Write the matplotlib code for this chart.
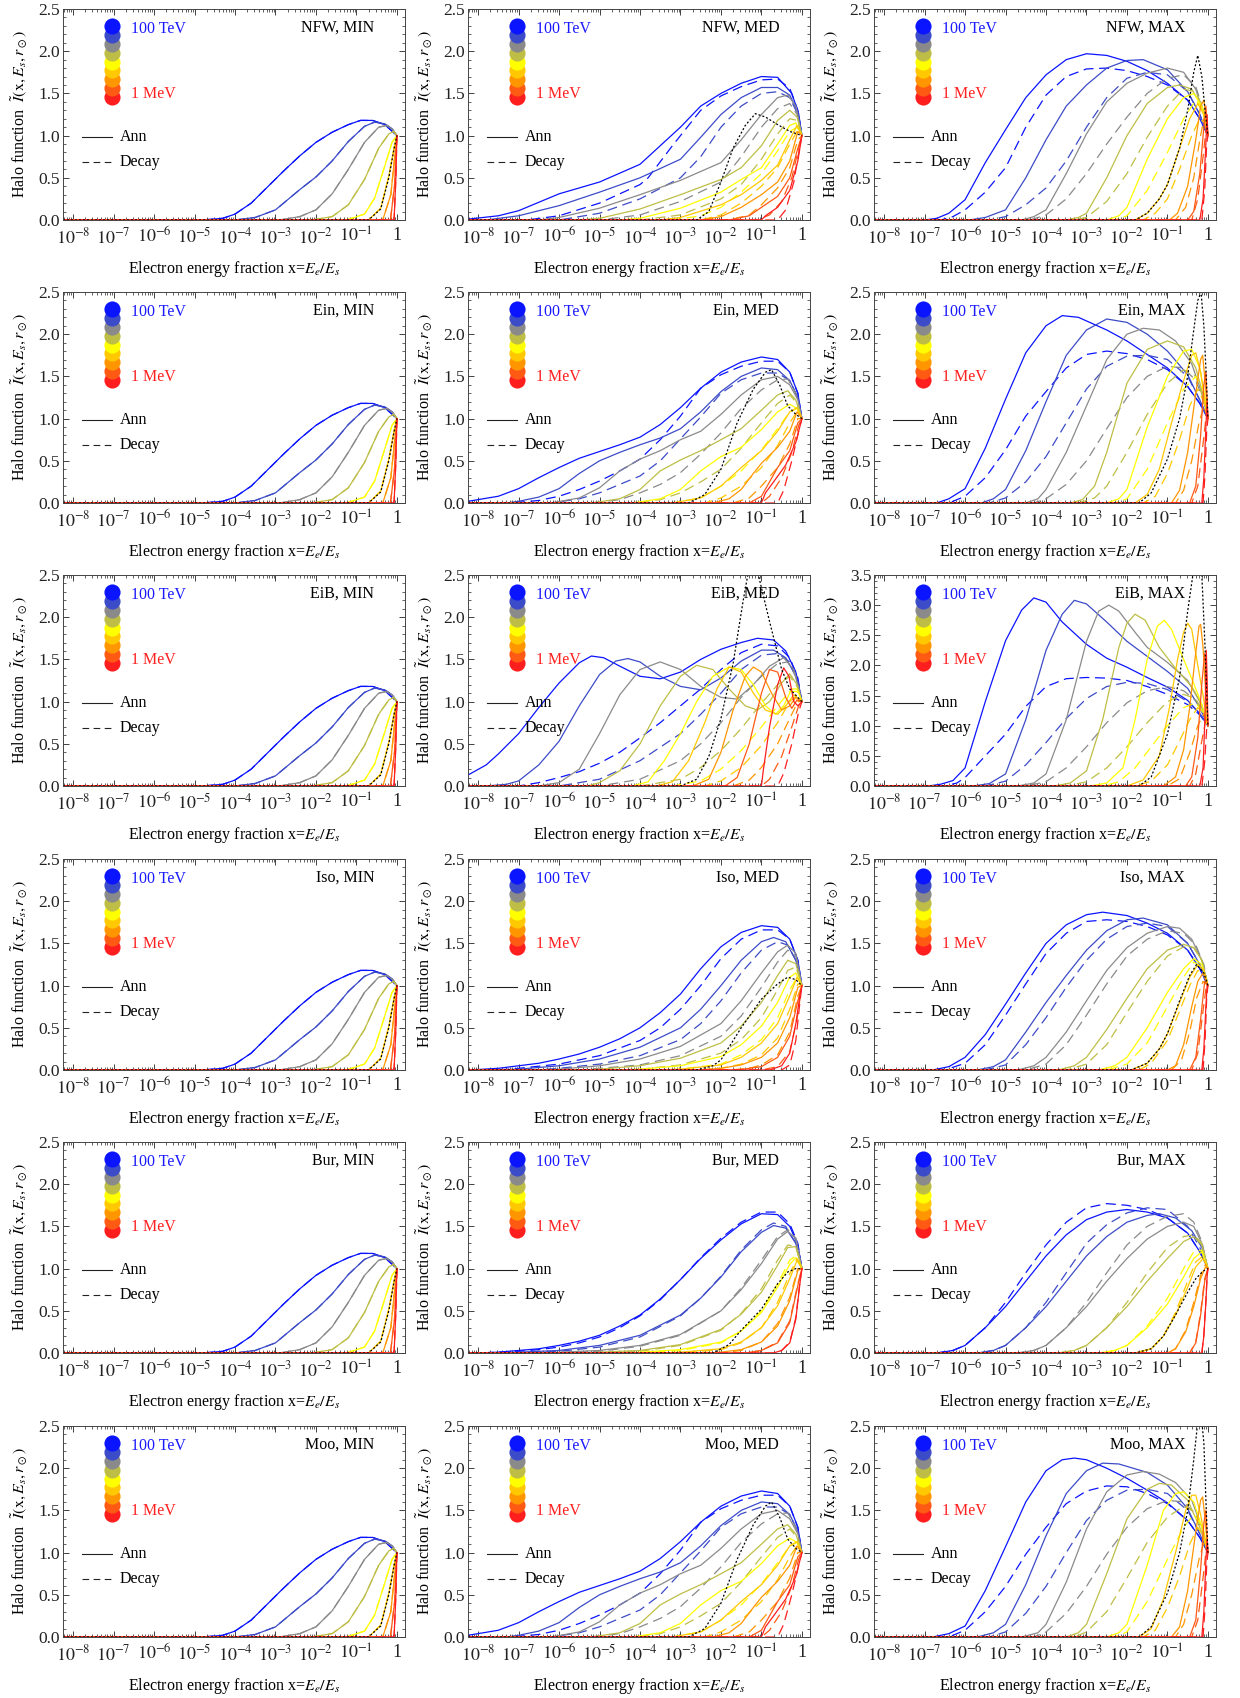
import numpy as np
import matplotlib.pyplot as plt
from matplotlib.ticker import FixedLocator, MultipleLocator, FormatStrFormatter, NullFormatter

plt.rcParams['font.family'] = ['Liberation Serif', 'DejaVu Serif']
plt.rcParams['mathtext.fontset'] = 'stix'

# line colours from 100 TeV (blue) down to 1 MeV (red)
COLORS = ['#0a14ff', '#3c4bc8', '#8a8a8a', '#bebe46', '#ffff00',
          '#ffc800', '#ff9600', '#ff5a14', '#ff1e1e']

XTICK_LABELS = [r'$10^{-8}$', r'$10^{-7}$', r'$10^{-6}$', r'$10^{-5}$',
                r'$10^{-4}$', r'$10^{-3}$', r'$10^{-2}$', r'$10^{-1}$', '1']

# each curve: list of (log10 x, I) knots; before the first knot the curve sits at 0

# ---------------- MIN propagation (all halo profiles look alike) ----------------
MIN_ANN = [
    [(-4.8, 0), (-4.3, 0.02), (-4.0, 0.07), (-3.6, 0.2), (-3.2, 0.39), (-2.8, 0.58), (-2.4, 0.76),
     (-2.0, 0.92), (-1.6, 1.04), (-1.2, 1.13), (-0.9, 1.18), (-0.6, 1.18), (-0.3, 1.13), (0, 1.0)],
    [(-4.0, 0), (-3.5, 0.03), (-3.0, 0.12), (-2.8, 0.2), (-2.4, 0.36), (-2.0, 0.51), (-1.6, 0.7),
     (-1.2, 0.93), (-0.8, 1.11), (-0.55, 1.16), (-0.3, 1.14), (-0.12, 1.08), (0, 1.0)],
    [(-2.9, 0), (-2.4, 0.04), (-2.0, 0.12), (-1.6, 0.31), (-1.2, 0.6), (-0.8, 0.92), (-0.45, 1.1),
     (-0.25, 1.12), (-0.1, 1.07), (0, 1.0)],
    [(-2.1, 0), (-1.6, 0.04), (-1.2, 0.18), (-0.8, 0.48), (-0.45, 0.85), (-0.2, 1.02), (-0.08, 1.05), (0, 1.0)],
    [(-1.25, 0), (-0.8, 0.07), (-0.55, 0.26), (-0.3, 0.64), (-0.12, 0.92), (0, 1.0)],
    [(-0.7, 0), (-0.4, 0.14), (-0.2, 0.52), (-0.06, 0.88), (0, 1.0)],
    [(-0.35, 0), (-0.15, 0.3), (-0.04, 0.82), (0, 1.0)],
    [(-0.16, 0), (-0.06, 0.4), (0, 1.0)],
    [(-0.07, 0), (-0.025, 0.5), (0, 1.0)],
]
MIN_DEC = MIN_ANN
MIN_DOT = [(-0.7, 0), (-0.4, 0.13), (-0.2, 0.5), (-0.06, 0.87), (0, 1.0)]

# ---------------- NFW, MED ----------------
NFW_MED_ANN = [
    [(-8.25, 0.01), (-7.5, 0.05), (-7, 0.11), (-6, 0.31), (-5, 0.45), (-4, 0.66), (-3.5, 0.88), (-3, 1.10),
     (-2.5, 1.35), (-2, 1.5), (-1.5, 1.62), (-1, 1.7), (-0.6, 1.69), (-0.25, 1.5), (-0.08, 1.26), (0, 1.0)],
    [(-7.8, 0), (-7, 0.05), (-6, 0.17), (-5, 0.33), (-4, 0.5), (-3, 0.72), (-2.5, 0.98), (-2, 1.25),
     (-1.5, 1.45), (-1, 1.57), (-0.6, 1.57), (-0.3, 1.48), (-0.1, 1.28), (0, 1.0)],
    [(-6.5, 0), (-6, 0.03), (-5, 0.14), (-4, 0.3), (-3, 0.47), (-2, 0.68), (-1.5, 0.95), (-1, 1.25),
     (-0.6, 1.45), (-0.35, 1.48), (-0.15, 1.35), (0, 1.0)],
    [(-5.5, 0), (-5, 0.02), (-4, 0.13), (-3, 0.3), (-2, 0.48), (-1.5, 0.62), (-1, 0.88), (-0.6, 1.18),
     (-0.3, 1.3), (-0.12, 1.22), (0, 1.0)],
    [(-4.5, 0), (-4, 0.02), (-3, 0.14), (-2, 0.33), (-1.5, 0.48), (-1, 0.62), (-0.6, 0.9), (-0.3, 1.12),
     (-0.15, 1.15), (0, 1.0)],
    [(-3.5, 0), (-3, 0.03), (-2, 0.18), (-1.5, 0.3), (-1, 0.47), (-0.6, 0.65), (-0.3, 0.95), (-0.12, 1.12), (0, 1.0)],
    [(-2.5, 0), (-2, 0.04), (-1.5, 0.15), (-1, 0.3), (-0.6, 0.45), (-0.3, 0.7), (-0.1, 1.05), (0, 1.0)],
    [(-1.8, 0), (-1.3, 0.05), (-1, 0.15), (-0.6, 0.28), (-0.3, 0.5), (-0.1, 0.85), (0, 1.0)],
    [(-1.0, 0), (-0.9, 0.05), (-0.6, 0.15), (-0.3, 0.35), (-0.1, 0.7), (0, 1.0)],
]
NFW_MED_DEC = [
    [(-6.8, 0), (-6, 0.05), (-5, 0.2), (-4, 0.42), (-3.8, 0.5), (-3.2, 0.88), (-2.5, 1.3), (-2, 1.47),
     (-1.5, 1.58), (-1, 1.66), (-0.6, 1.67), (-0.3, 1.56), (-0.1, 1.3), (0, 1.0)],
    [(-6, 0), (-5, 0.08), (-4, 0.25), (-3, 0.5), (-2.5, 0.75), (-2, 1.1), (-1.5, 1.35), (-1, 1.5),
     (-0.6, 1.52), (-0.3, 1.45), (-0.1, 1.25), (0, 1.0)],
    [(-5, 0), (-4, 0.06), (-3, 0.22), (-2, 0.45), (-1.5, 0.75), (-1, 1.1), (-0.6, 1.32), (-0.3, 1.38),
     (-0.12, 1.25), (0, 1.0)],
    [(-4, 0), (-3, 0.06), (-2, 0.25), (-1.5, 0.42), (-1, 0.72), (-0.6, 1.02), (-0.3, 1.2), (-0.12, 1.18), (0, 1.0)],
    [(-3.2, 0), (-2.5, 0.05), (-2, 0.15), (-1.5, 0.33), (-1, 0.55), (-0.6, 0.82), (-0.3, 1.05), (-0.12, 1.1), (0, 1.0)],
    [(-2.5, 0), (-2, 0.06), (-1.5, 0.2), (-1, 0.4), (-0.6, 0.62), (-0.3, 0.9), (-0.12, 1.05), (0, 1.0)],
    [(-1.8, 0), (-1.3, 0.06), (-1, 0.18), (-0.6, 0.38), (-0.3, 0.62), (-0.1, 0.95), (0, 1.0)],
    [(-1.1, 0), (-0.8, 0.06), (-0.5, 0.22), (-0.25, 0.5), (-0.08, 0.85), (0, 1.0)],
    [(-0.6, 0), (-0.4, 0.12), (-0.2, 0.45), (-0.06, 0.85), (0, 1.0)],
]
NFW_MED_DOT = [(-2.6, 0), (-2.3, 0.1), (-2.0, 0.45), (-1.7, 0.85), (-1.4, 1.12), (-1.15, 1.26), (-0.9, 1.22),
               (-0.6, 1.13), (-0.3, 1.05), (0, 1.0)]

# ---------------- Ein, MED ----------------
EIN_MED_ANN = [
    [(-8.25, 0.02), (-7.5, 0.08), (-7, 0.17), (-6.5, 0.3), (-6, 0.42), (-5.5, 0.53), (-5, 0.61), (-4.5, 0.69),
     (-4, 0.78), (-3.5, 0.93), (-3, 1.13), (-2.5, 1.36), (-2, 1.55), (-1.5, 1.67), (-1, 1.73), (-0.6, 1.7),
     (-0.3, 1.55), (-0.1, 1.3), (0, 1.0)],
    [(-7.3, 0), (-7, 0.02), (-6.5, 0.07), (-6, 0.17), (-5.5, 0.35), (-5, 0.5), (-4.5, 0.6), (-4, 0.69),
     (-3.5, 0.77), (-3, 0.88), (-2.5, 1.08), (-2, 1.32), (-1.5, 1.5), (-1, 1.6), (-0.6, 1.58), (-0.3, 1.45),
     (-0.1, 1.25), (0, 1.0)],
    [(-6.2, 0), (-5.5, 0.06), (-5, 0.18), (-4.5, 0.38), (-4, 0.52), (-3.5, 0.62), (-3, 0.75), (-2.5, 0.85),
     (-2, 1.05), (-1.5, 1.28), (-1, 1.46), (-0.6, 1.5), (-0.3, 1.4), (-0.1, 1.22), (0, 1.0)],
    [(-5.2, 0), (-4.5, 0.05), (-4, 0.16), (-3.5, 0.38), (-3, 0.51), (-2.5, 0.62), (-2, 0.75), (-1.5, 0.88),
     (-1, 1.1), (-0.6, 1.28), (-0.35, 1.33), (-0.15, 1.22), (0, 1.0)],
    [(-4.2, 0), (-3.5, 0.05), (-3, 0.16), (-2.5, 0.38), (-2, 0.55), (-1.5, 0.66), (-1, 0.87), (-0.6, 1.08),
     (-0.3, 1.17), (-0.12, 1.12), (0, 1.0)],
    [(-3.2, 0), (-2.5, 0.06), (-2, 0.2), (-1.5, 0.42), (-1, 0.62), (-0.6, 0.85), (-0.3, 1.08), (-0.12, 1.13), (0, 1.0)],
    [(-2.2, 0), (-1.8, 0.05), (-1.5, 0.16), (-1.2, 0.35), (-1, 0.47), (-0.6, 0.66), (-0.3, 0.85), (-0.12, 1.08), (0, 1.0)],
    [(-1.3, 0), (-1.0, 0.08), (-0.8, 0.25), (-0.6, 0.42), (-0.3, 0.62), (-0.1, 0.95), (0, 1.0)],
    [(-1.0, 0), (-0.9, 0.12), (-0.7, 0.25), (-0.4, 0.45), (-0.15, 0.72), (0, 1.0)],
]
EIN_MED_DEC = [
    [(-7.2, 0), (-6.5, 0.03), (-6, 0.08), (-5.5, 0.16), (-5, 0.26), (-4.5, 0.38), (-4, 0.52), (-3.5, 0.75),
     (-3, 1.03), (-2.5, 1.36), (-2, 1.52), (-1.5, 1.62), (-1, 1.68), (-0.6, 1.68), (-0.3, 1.55), (-0.1, 1.3), (0, 1.0)],
    [(-6.2, 0), (-5.5, 0.05), (-5, 0.12), (-4.5, 0.22), (-4, 0.32), (-3.5, 0.5), (-3, 0.76), (-2.5, 1.02),
     (-2, 1.3), (-1.5, 1.46), (-1, 1.54), (-0.6, 1.54), (-0.3, 1.45), (-0.1, 1.25), (0, 1.0)],
    [(-5.2, 0), (-4.5, 0.04), (-4, 0.12), (-3.5, 0.22), (-3, 0.36), (-2.5, 0.58), (-2, 0.83), (-1.5, 1.12),
     (-1, 1.34), (-0.6, 1.46), (-0.35, 1.47), (-0.15, 1.3), (0, 1.0)],
    [(-4.2, 0), (-3.5, 0.04), (-3, 0.12), (-2.5, 0.25), (-2, 0.4), (-1.5, 0.65), (-1, 0.95), (-0.6, 1.18),
     (-0.3, 1.28), (-0.12, 1.18), (0, 1.0)],
    [(-3.2, 0), (-2.5, 0.06), (-2, 0.2), (-1.5, 0.38), (-1, 0.63), (-0.6, 0.88), (-0.3, 1.08), (-0.12, 1.12), (0, 1.0)],
    [(-2.4, 0), (-2, 0.06), (-1.5, 0.2), (-1, 0.42), (-0.6, 0.68), (-0.3, 0.95), (-0.1, 1.1), (0, 1.0)],
    [(-1.7, 0), (-1.3, 0.06), (-1, 0.2), (-0.6, 0.42), (-0.3, 0.7), (-0.1, 1.0), (0, 1.0)],
    [(-1.0, 0), (-0.8, 0.08), (-0.5, 0.3), (-0.25, 0.6), (-0.08, 0.92), (0, 1.0)],
    [(-0.6, 0), (-0.45, 0.15), (-0.25, 0.5), (-0.08, 0.85), (0, 1.0)],
]
EIN_MED_DOT = [(-2.8, 0), (-2.4, 0.1), (-2.0, 0.4), (-1.6, 0.95), (-1.2, 1.35), (-0.9, 1.55), (-0.75, 1.58),
               (-0.55, 1.4), (-0.35, 1.15), (-0.15, 1.05), (0, 1.0)]

# ---------------- EiB, MED ----------------
EIB_MED_ANN = [
    [(-8.25, 0.13), (-7.8, 0.25), (-7.5, 0.38), (-7, 0.62), (-6.5, 0.93), (-6, 1.22), (-5.5, 1.46), (-5.2, 1.54),
     (-4.9, 1.52), (-4.5, 1.42), (-4, 1.3), (-3.5, 1.27), (-3, 1.35), (-2.5, 1.5), (-2, 1.62), (-1.5, 1.7),
     (-1.1, 1.75), (-0.7, 1.73), (-0.4, 1.6), (-0.15, 1.35), (0, 1.0)],
    [(-7.8, 0), (-7.3, 0.02), (-7, 0.06), (-6.5, 0.25), (-6, 0.53), (-5.5, 0.95), (-5, 1.32), (-4.6, 1.48),
     (-4.3, 1.51), (-4, 1.47), (-3.5, 1.3), (-3, 1.18), (-2.5, 1.14), (-2, 1.28), (-1.5, 1.48), (-1, 1.61),
     (-0.7, 1.61), (-0.4, 1.52), (-0.15, 1.3), (0, 1.0)],
    [(-6.5, 0), (-6, 0.04), (-5.5, 0.2), (-5, 0.62), (-4.5, 1.08), (-4, 1.38), (-3.5, 1.47), (-3, 1.38),
     (-2.5, 1.18), (-2, 1.05), (-1.6, 1.03), (-1.2, 1.2), (-0.8, 1.42), (-0.45, 1.52), (-0.2, 1.38), (0, 1.0)],
    [(-5.3, 0), (-5, 0.04), (-4.5, 0.18), (-4, 0.5), (-3.5, 0.95), (-3, 1.3), (-2.6, 1.43), (-2.2, 1.38),
     (-1.8, 1.15), (-1.4, 0.95), (-1.1, 0.9), (-0.8, 1.0), (-0.5, 1.22), (-0.3, 1.33), (-0.12, 1.2), (0, 1.0)],
    [(-4.2, 0), (-3.8, 0.05), (-3.4, 0.3), (-3, 0.62), (-2.6, 1.0), (-2.2, 1.3), (-1.8, 1.41), (-1.5, 1.38),
     (-1.2, 1.2), (-0.9, 0.95), (-0.65, 0.85), (-0.45, 0.95), (-0.25, 1.15), (-0.12, 1.15), (0, 1.0)],
    [(-3.6, 0), (-3.2, 0.05), (-2.8, 0.3), (-2.4, 0.75), (-2.1, 1.15), (-1.8, 1.41), (-1.5, 1.35), (-1.2, 1.1),
     (-0.9, 0.9), (-0.6, 0.85), (-0.4, 0.95), (-0.2, 1.08), (0, 1.0)],
    [(-2.7, 0), (-2.3, 0.08), (-2.0, 0.4), (-1.7, 0.9), (-1.4, 1.3), (-1.2, 1.41), (-1.0, 1.35), (-0.75, 1.1),
     (-0.5, 0.9), (-0.3, 0.95), (-0.15, 1.05), (0, 1.0)],
    [(-1.9, 0), (-1.6, 0.1), (-1.3, 0.5), (-1.0, 1.1), (-0.8, 1.38), (-0.6, 1.35), (-0.4, 1.05), (-0.25, 0.92),
     (-0.12, 1.02), (0, 1.0)],
    [(-1.0, 0), (-0.95, 0.2), (-0.8, 0.7), (-0.6, 1.2), (-0.45, 1.4), (-0.32, 1.3), (-0.2, 1.0), (-0.1, 0.95), (0, 1.0)],
]
EIB_MED_DEC = [
    [(-7, 0), (-6.5, 0.04), (-6, 0.1), (-5.5, 0.17), (-5, 0.27), (-4.5, 0.4), (-4, 0.57), (-3.5, 0.75),
     (-3, 0.95), (-2.5, 1.15), (-2, 1.38), (-1.5, 1.58), (-1, 1.68), (-0.6, 1.66), (-0.3, 1.52), (-0.1, 1.28), (0, 1.0)],
    [(-6, 0), (-5, 0.08), (-4, 0.3), (-3, 0.62), (-2.5, 0.85), (-2, 1.1), (-1.5, 1.38), (-1, 1.55), (-0.6, 1.57),
     (-0.3, 1.47), (-0.1, 1.25), (0, 1.0)],
    [(-5, 0), (-4, 0.08), (-3, 0.3), (-2.5, 0.5), (-2, 0.75), (-1.5, 1.05), (-1, 1.3), (-0.6, 1.45), (-0.35, 1.47),
     (-0.15, 1.3), (0, 1.0)],
    [(-4, 0), (-3, 0.08), (-2.5, 0.22), (-2, 0.42), (-1.5, 0.68), (-1, 0.98), (-0.6, 1.2), (-0.3, 1.3), (-0.12, 1.18), (0, 1.0)],
    [(-3.2, 0), (-2.5, 0.06), (-2, 0.2), (-1.5, 0.42), (-1, 0.7), (-0.6, 0.95), (-0.3, 1.12), (-0.12, 1.12), (0, 1.0)],
    [(-2.4, 0), (-2, 0.06), (-1.5, 0.22), (-1, 0.48), (-0.6, 0.75), (-0.3, 1.0), (-0.1, 1.08), (0, 1.0)],
    [(-1.7, 0), (-1.3, 0.07), (-1, 0.22), (-0.6, 0.5), (-0.3, 0.8), (-0.1, 1.0), (0, 1.0)],
    [(-1.0, 0), (-0.8, 0.08), (-0.5, 0.35), (-0.25, 0.7), (-0.08, 0.95), (0, 1.0)],
    [(-0.6, 0), (-0.45, 0.15), (-0.25, 0.5), (-0.08, 0.88), (0, 1.0)],
]
EIB_MED_DOT = [(-3.0, 0), (-2.6, 0.08), (-2.3, 0.35), (-2.0, 0.8), (-1.7, 1.45), (-1.45, 2.2), (-1.3, 2.6),
               (-1.2, 2.65), (-1.1, 2.55), (-0.8, 1.95), (-0.5, 1.38), (-0.3, 1.15), (0, 1.0)]

# ---------------- Iso, MED ----------------
ISO_MED_ANN = [
    [(-8.2, 0), (-7.5, 0.02), (-7, 0.05), (-6.5, 0.08), (-6, 0.13), (-5.5, 0.19), (-5, 0.27), (-4.5, 0.37),
     (-4, 0.5), (-3.5, 0.68), (-3, 0.9), (-2.5, 1.2), (-2, 1.46), (-1.5, 1.63), (-1, 1.71), (-0.6, 1.69),
     (-0.3, 1.55), (-0.1, 1.3), (0, 1.0)],
    [(-7.5, 0), (-7, 0.01), (-6, 0.05), (-5, 0.13), (-4, 0.27), (-3, 0.5), (-2.5, 0.72), (-2, 1.0), (-1.5, 1.3),
     (-1, 1.52), (-0.7, 1.57), (-0.4, 1.52), (-0.15, 1.3), (0, 1.0)],
    [(-6.5, 0), (-6, 0.01), (-5, 0.05), (-4, 0.13), (-3, 0.28), (-2, 0.55), (-1.5, 0.82), (-1, 1.15), (-0.6, 1.4),
     (-0.35, 1.48), (-0.15, 1.38), (0, 1.0)],
    [(-5.5, 0), (-5, 0.01), (-4, 0.05), (-3, 0.14), (-2, 0.32), (-1.5, 0.52), (-1, 0.8), (-0.6, 1.12), (-0.35, 1.3),
     (-0.15, 1.26), (0, 1.0)],
    [(-4.5, 0), (-4, 0.01), (-3, 0.05), (-2, 0.16), (-1.5, 0.3), (-1, 0.52), (-0.6, 0.8), (-0.3, 1.1), (-0.15, 1.15), (0, 1.0)],
    [(-3.5, 0), (-3, 0.01), (-2, 0.06), (-1.5, 0.15), (-1, 0.32), (-0.6, 0.55), (-0.3, 0.88), (-0.12, 1.1), (0, 1.0)],
    [(-2.5, 0), (-2, 0.02), (-1.5, 0.06), (-1, 0.15), (-0.6, 0.32), (-0.3, 0.62), (-0.1, 0.98), (0, 1.0)],
    [(-1.6, 0), (-1, 0.04), (-0.6, 0.15), (-0.3, 0.4), (-0.1, 0.82), (0, 1.0)],
    [(-0.8, 0), (-0.5, 0.05), (-0.3, 0.2), (-0.15, 0.55), (-0.05, 0.88), (0, 1.0)],
]
ISO_MED_DEC = [
    [(-7.5, 0), (-7, 0.02), (-6, 0.07), (-5, 0.17), (-4, 0.35), (-3.5, 0.5), (-3, 0.72), (-2.5, 1.0), (-2, 1.32),
     (-1.5, 1.55), (-1, 1.66), (-0.6, 1.66), (-0.3, 1.55), (-0.1, 1.3), (0, 1.0)],
    [(-6.5, 0), (-6, 0.02), (-5, 0.07), (-4, 0.17), (-3, 0.36), (-2.5, 0.55), (-2, 0.82), (-1.5, 1.15), (-1, 1.42),
     (-0.6, 1.52), (-0.35, 1.48), (-0.15, 1.3), (0, 1.0)],
    [(-5.5, 0), (-5, 0.02), (-4, 0.06), (-3, 0.17), (-2, 0.4), (-1.5, 0.64), (-1, 0.98), (-0.6, 1.28), (-0.35, 1.42),
     (-0.15, 1.35), (0, 1.0)],
    [(-4.5, 0), (-4, 0.01), (-3, 0.06), (-2, 0.2), (-1.5, 0.36), (-1, 0.62), (-0.6, 0.95), (-0.35, 1.18),
     (-0.15, 1.22), (0, 1.0)],
    [(-3.5, 0), (-3, 0.01), (-2, 0.07), (-1.5, 0.18), (-1, 0.36), (-0.6, 0.62), (-0.3, 0.95), (-0.12, 1.1), (0, 1.0)],
    [(-2.6, 0), (-2, 0.02), (-1.5, 0.07), (-1, 0.18), (-0.6, 0.38), (-0.3, 0.72), (-0.1, 1.02), (0, 1.0)],
    [(-1.8, 0), (-1.3, 0.02), (-1, 0.06), (-0.6, 0.18), (-0.3, 0.45), (-0.1, 0.88), (0, 1.0)],
    [(-1.0, 0), (-0.6, 0.04), (-0.3, 0.22), (-0.12, 0.6), (0, 1.0)],
    [(-0.5, 0), (-0.3, 0.06), (-0.15, 0.35), (-0.05, 0.8), (0, 1.0)],
]
ISO_MED_DOT = [(-2.6, 0), (-2.2, 0.05), (-2, 0.12), (-1.5, 0.5), (-1, 0.84), (-0.6, 1.02), (-0.35, 1.1),
               (-0.15, 1.07), (0, 1.0)]

# ---------------- Bur, MED ----------------
BUR_MED_ANN = [
    [(-8, 0), (-7.5, 0.01), (-7, 0.03), (-6.5, 0.05), (-6, 0.09), (-5.5, 0.14), (-5, 0.21), (-4.5, 0.32),
     (-4, 0.45), (-3.5, 0.64), (-3, 0.87), (-2.5, 1.12), (-2, 1.34), (-1.5, 1.53), (-1, 1.65), (-0.6, 1.64),
     (-0.3, 1.5), (-0.1, 1.28), (0, 1.0)],
    [(-7.2, 0), (-7, 0.01), (-6, 0.03), (-5, 0.09), (-4, 0.21), (-3, 0.45), (-2.5, 0.65), (-2, 0.9), (-1.5, 1.2),
     (-1, 1.43), (-0.7, 1.51), (-0.4, 1.48), (-0.15, 1.3), (0, 1.0)],
    [(-6.2, 0), (-6, 0.01), (-5, 0.03), (-4, 0.09), (-3, 0.22), (-2, 0.5), (-1.5, 0.75), (-1, 1.06), (-0.6, 1.35),
     (-0.35, 1.44), (-0.15, 1.36), (0, 1.0)],
    [(-5.2, 0), (-5, 0.01), (-4, 0.03), (-3, 0.1), (-2, 0.28), (-1.5, 0.46), (-1, 0.72), (-0.6, 1.04), (-0.35, 1.25),
     (-0.15, 1.26), (0, 1.0)],
    [(-4.2, 0), (-4, 0.01), (-3, 0.04), (-2, 0.13), (-1.5, 0.26), (-1, 0.48), (-0.6, 0.78), (-0.3, 1.05),
     (-0.15, 1.13), (0, 1.0)],
    [(-3.2, 0), (-3, 0.01), (-2, 0.05), (-1.5, 0.13), (-1, 0.3), (-0.6, 0.56), (-0.3, 0.88), (-0.12, 1.1), (0, 1.0)],
    [(-2.2, 0), (-2, 0.01), (-1.5, 0.04), (-1, 0.13), (-0.6, 0.32), (-0.3, 0.62), (-0.1, 0.98), (0, 1.0)],
    [(-1.4, 0), (-1, 0.03), (-0.6, 0.12), (-0.3, 0.36), (-0.1, 0.8), (0, 1.0)],
    [(-0.7, 0), (-0.5, 0.03), (-0.3, 0.12), (-0.15, 0.4), (-0.05, 0.82), (0, 1.0)],
]
BUR_MED_DEC = [
    [(-8, 0), (-7.5, 0.01), (-7, 0.02), (-6.5, 0.04), (-6, 0.07), (-5.5, 0.12), (-5, 0.19), (-4.5, 0.3),
     (-4, 0.44), (-3.5, 0.63), (-3, 0.87), (-2.5, 1.13), (-2, 1.36), (-1.5, 1.55), (-1, 1.67), (-0.6, 1.67),
     (-0.3, 1.53), (-0.1, 1.3), (0, 1.0)],
    [(-7, 0), (-6, 0.02), (-5, 0.07), (-4, 0.19), (-3, 0.44), (-2.5, 0.65), (-2, 0.91), (-1.5, 1.22), (-1, 1.46),
     (-0.7, 1.54), (-0.4, 1.5), (-0.15, 1.3), (0, 1.0)],
    [(-6, 0), (-5, 0.02), (-4, 0.08), (-3, 0.21), (-2, 0.5), (-1.5, 0.77), (-1, 1.1), (-0.6, 1.38), (-0.35, 1.46),
     (-0.15, 1.36), (0, 1.0)],
    [(-5, 0), (-4, 0.02), (-3, 0.09), (-2, 0.27), (-1.5, 0.47), (-1, 0.76), (-0.6, 1.1), (-0.35, 1.28),
     (-0.15, 1.26), (0, 1.0)],
    [(-4, 0), (-3, 0.03), (-2, 0.12), (-1.5, 0.26), (-1, 0.5), (-0.6, 0.82), (-0.3, 1.1), (-0.15, 1.15), (0, 1.0)],
    [(-3, 0), (-2, 0.04), (-1.5, 0.12), (-1, 0.3), (-0.6, 0.6), (-0.3, 0.94), (-0.12, 1.12), (0, 1.0)],
    [(-2, 0), (-1.5, 0.03), (-1, 0.13), (-0.6, 0.35), (-0.3, 0.66), (-0.1, 1.0), (0, 1.0)],
    [(-1.3, 0), (-1, 0.03), (-0.6, 0.13), (-0.3, 0.38), (-0.1, 0.82), (0, 1.0)],
    [(-0.7, 0), (-0.5, 0.03), (-0.3, 0.13), (-0.15, 0.42), (-0.05, 0.84), (0, 1.0)],
]
BUR_MED_DOT = [(-2.2, 0), (-1.8, 0.1), (-1.5, 0.27), (-1, 0.52), (-0.6, 0.82), (-0.35, 0.96), (-0.15, 1.0), (0, 1.0)]

# ---------------- Moo, MED ----------------
MOO_MED_ANN = EIN_MED_ANN
MOO_MED_DEC = EIN_MED_DEC
MOO_MED_DOT = [(-2.8, 0), (-2.4, 0.1), (-2.0, 0.4), (-1.6, 0.92), (-1.2, 1.33), (-0.9, 1.55), (-0.75, 1.6),
               (-0.55, 1.42), (-0.35, 1.16), (-0.15, 1.05), (0, 1.0)]

# ---------------- NFW, MAX ----------------
NFW_MAX_ANN = [
    [(-7, 0), (-6.7, 0.02), (-6.4, 0.08), (-6, 0.24), (-5.5, 0.68), (-5, 1.07), (-4.5, 1.45), (-4, 1.72),
     (-3.5, 1.9), (-3, 1.97), (-2.5, 1.95), (-2, 1.88), (-1.5, 1.77), (-1, 1.62), (-0.5, 1.42), (-0.2, 1.2), (0, 1.0)],
    [(-5.9, 0), (-5.5, 0.03), (-5, 0.12), (-4.5, 0.5), (-4, 0.95), (-3.5, 1.35), (-3, 1.6), (-2.5, 1.8),
     (-2, 1.89), (-1.6, 1.9), (-1, 1.78), (-0.5, 1.52), (-0.2, 1.25), (0, 1.0)],
    [(-4.6, 0), (-4.3, 0.04), (-4, 0.12), (-3.5, 0.55), (-3, 1.02), (-2.5, 1.4), (-2, 1.62), (-1.5, 1.74),
     (-1, 1.8), (-0.6, 1.75), (-0.3, 1.55), (-0.1, 1.25), (0, 1.0)],
    [(-3.5, 0), (-3.2, 0.03), (-3, 0.08), (-2.5, 0.5), (-2, 1.0), (-1.5, 1.38), (-1, 1.57), (-0.7, 1.6),
     (-0.4, 1.55), (-0.15, 1.35), (0, 1.0)],
    [(-2.5, 0), (-2.2, 0.05), (-2, 0.15), (-1.5, 0.72), (-1, 1.2), (-0.6, 1.45), (-0.35, 1.5), (-0.15, 1.35), (0, 1.0)],
    [(-1.8, 0), (-1.5, 0.08), (-1.2, 0.25), (-1, 0.42), (-0.7, 0.85), (-0.45, 1.2), (-0.25, 1.38), (-0.1, 1.25), (0, 1.0)],
    [(-0.95, 0), (-0.75, 0.08), (-0.5, 0.4), (-0.3, 0.95), (-0.18, 1.35), (-0.1, 1.42), (-0.04, 1.2), (0, 1.0)],
    [(-0.5, 0), (-0.35, 0.1), (-0.2, 0.55), (-0.1, 1.1), (-0.05, 1.35), (0, 1.0)],
    [(-0.2, 0), (-0.12, 0.25), (-0.06, 0.8), (-0.02, 1.25), (0, 1.0)],
]
NFW_MAX_DEC = [
    [(-6.6, 0), (-6.3, 0.04), (-6, 0.12), (-5.5, 0.33), (-5, 0.62), (-4.5, 1.1), (-4, 1.48), (-3.5, 1.7),
     (-3, 1.79), (-2.5, 1.8), (-2, 1.77), (-1.5, 1.7), (-1, 1.6), (-0.5, 1.42), (-0.2, 1.2), (0, 1.0)],
    [(-5.4, 0), (-5, 0.04), (-4.5, 0.18), (-4, 0.38), (-3.5, 0.7), (-3, 1.1), (-2.5, 1.45), (-2, 1.68),
     (-1.5, 1.75), (-1, 1.72), (-0.5, 1.52), (-0.2, 1.25), (0, 1.0)],
    [(-4.4, 0), (-4, 0.06), (-3.5, 0.25), (-3, 0.55), (-2.5, 0.9), (-2, 1.22), (-1.5, 1.5), (-1, 1.68),
     (-0.6, 1.72), (-0.3, 1.58), (-0.1, 1.28), (0, 1.0)],
    [(-3.3, 0), (-3, 0.03), (-2.5, 0.22), (-2, 0.55), (-1.5, 0.98), (-1, 1.35), (-0.6, 1.55), (-0.3, 1.52),
     (-0.1, 1.3), (0, 1.0)],
    [(-2.3, 0), (-2, 0.05), (-1.5, 0.35), (-1, 0.8), (-0.6, 1.2), (-0.3, 1.42), (-0.12, 1.32), (0, 1.0)],
    [(-1.6, 0), (-1.3, 0.08), (-1, 0.25), (-0.7, 0.6), (-0.4, 1.0), (-0.2, 1.2), (-0.08, 1.15), (0, 1.0)],
    [(-0.8, 0), (-0.55, 0.15), (-0.35, 0.5), (-0.2, 0.95), (-0.1, 1.2), (0, 1.0)],
    [(-0.4, 0), (-0.25, 0.25), (-0.12, 0.75), (-0.04, 1.1), (0, 1.0)],
    [(-0.15, 0), (-0.08, 0.35), (-0.03, 0.9), (0, 1.0)],
]
NFW_MAX_DOT = [(-1.8, 0), (-1.5, 0.08), (-1.2, 0.25), (-1, 0.42), (-0.7, 0.85), (-0.5, 1.3), (-0.35, 1.75),
               (-0.25, 1.95), (-0.15, 1.7), (-0.07, 1.3), (0, 1.0)]

# ---------------- Ein, MAX ----------------
EIN_MAX_ANN = [
    [(-6.7, 0), (-6.4, 0.05), (-6, 0.17), (-5.5, 0.65), (-5, 1.23), (-4.5, 1.78), (-4, 2.1), (-3.6, 2.22),
     (-3.2, 2.2), (-2.5, 2.05), (-2, 1.92), (-1.5, 1.76), (-1, 1.6), (-0.5, 1.38), (-0.2, 1.18), (0, 1.0)],
    [(-5.6, 0), (-5.3, 0.05), (-5, 0.16), (-4.5, 0.62), (-4, 1.2), (-3.5, 1.75), (-3, 2.05), (-2.5, 2.18),
     (-2, 2.14), (-1.5, 2.0), (-1, 1.8), (-0.5, 1.52), (-0.2, 1.22), (0, 1.0)],
    [(-4.5, 0), (-4.2, 0.05), (-4, 0.16), (-3.5, 0.6), (-3, 1.15), (-2.5, 1.7), (-2, 2.0), (-1.6, 2.07),
     (-1.2, 2.05), (-0.8, 1.92), (-0.4, 1.65), (-0.15, 1.3), (0, 1.0)],
    [(-3.4, 0), (-3.1, 0.04), (-2.8, 0.2), (-2.5, 0.6), (-2, 1.42), (-1.5, 1.82), (-1, 1.92), (-0.6, 1.85),
     (-0.3, 1.6), (-0.1, 1.25), (0, 1.0)],
    [(-2.5, 0), (-2.2, 0.05), (-2, 0.16), (-1.5, 0.9), (-1, 1.5), (-0.6, 1.8), (-0.4, 1.82), (-0.2, 1.6),
     (-0.07, 1.25), (0, 1.0)],
    [(-1.8, 0), (-1.5, 0.1), (-1.2, 0.4), (-0.9, 0.95), (-0.6, 1.45), (-0.4, 1.75), (-0.3, 1.78), (-0.18, 1.55),
     (-0.07, 1.2), (0, 1.0)],
    [(-0.9, 0), (-0.7, 0.15), (-0.5, 0.6), (-0.3, 1.3), (-0.18, 1.7), (-0.13, 1.75), (-0.07, 1.45), (0, 1.0)],
    [(-0.45, 0), (-0.3, 0.2), (-0.18, 0.8), (-0.1, 1.4), (-0.05, 1.55), (0, 1.0)],
    [(-0.15, 0), (-0.1, 0.3), (-0.05, 0.9), (-0.02, 1.2), (0, 1.0)],
]
EIN_MAX_DEC = [
    [(-6.4, 0), (-6, 0.08), (-5.5, 0.3), (-5, 0.63), (-4.5, 1.03), (-4, 1.32), (-3.5, 1.6), (-3, 1.76),
     (-2.5, 1.8), (-2, 1.77), (-1.5, 1.7), (-1, 1.58), (-0.5, 1.38), (-0.2, 1.18), (0, 1.0)],
    [(-5.4, 0), (-5, 0.06), (-4.5, 0.25), (-4, 0.55), (-3.5, 0.95), (-3, 1.35), (-2.5, 1.62), (-2, 1.74),
     (-1.5, 1.75), (-1, 1.7), (-0.5, 1.5), (-0.2, 1.22), (0, 1.0)],
    [(-4.3, 0), (-4, 0.05), (-3.5, 0.22), (-3, 0.5), (-2.5, 0.88), (-2, 1.25), (-1.5, 1.5), (-1, 1.62),
     (-0.6, 1.6), (-0.3, 1.45), (-0.1, 1.2), (0, 1.0)],
    [(-3.2, 0), (-2.8, 0.06), (-2.5, 0.2), (-2, 0.6), (-1.5, 1.05), (-1, 1.42), (-0.6, 1.58), (-0.3, 1.5),
     (-0.1, 1.22), (0, 1.0)],
    [(-2.3, 0), (-2, 0.05), (-1.5, 0.4), (-1, 0.95), (-0.6, 1.35), (-0.3, 1.5), (-0.12, 1.35), (0, 1.0)],
    [(-1.6, 0), (-1.3, 0.08), (-1, 0.35), (-0.7, 0.75), (-0.45, 1.15), (-0.25, 1.35), (-0.1, 1.2), (0, 1.0)],
    [(-0.8, 0), (-0.6, 0.15), (-0.4, 0.5), (-0.22, 0.95), (-0.1, 1.15), (0, 1.0)],
    [(-0.4, 0), (-0.25, 0.2), (-0.12, 0.7), (-0.04, 1.05), (0, 1.0)],
    [(-0.12, 0), (-0.07, 0.35), (-0.03, 0.85), (0, 1.0)],
]
EIN_MAX_DOT = [(-1.7, 0), (-1.4, 0.12), (-1, 0.52), (-0.7, 1.0), (-0.5, 1.5), (-0.35, 2.05), (-0.25, 2.4),
               (-0.17, 2.5), (-0.1, 2.1), (-0.04, 1.5), (0, 1.0)]

# ---------------- EiB, MAX ----------------
EIB_MAX_ANN = [
    [(-6.9, 0), (-6.6, 0.03), (-6.3, 0.09), (-6, 0.3), (-5.5, 1.4), (-5, 2.41), (-4.6, 2.92), (-4.3, 3.12),
     (-4, 3.05), (-3.6, 2.72), (-3, 2.35), (-2.5, 2.12), (-2, 1.97), (-1.5, 1.8), (-1, 1.64), (-0.5, 1.42),
     (-0.2, 1.2), (0, 1.0)],
    [(-5.8, 0), (-5.4, 0.04), (-5, 0.2), (-4.5, 1.1), (-4, 2.25), (-3.6, 2.85), (-3.3, 3.08), (-3, 3.02),
     (-2.5, 2.72), (-2, 2.4), (-1.5, 2.15), (-1, 1.9), (-0.5, 1.62), (-0.2, 1.3), (0, 1.0)],
    [(-4.7, 0), (-4.3, 0.05), (-4, 0.2), (-3.5, 1.1), (-3, 2.4), (-2.7, 2.9), (-2.45, 3.0), (-2.2, 2.9),
     (-1.8, 2.55), (-1.5, 2.3), (-1, 2.05), (-0.5, 1.75), (-0.2, 1.4), (0, 1.0)],
    [(-3.8, 0), (-3.4, 0.05), (-3, 0.25), (-2.6, 1.1), (-2.2, 2.3), (-2, 2.7), (-1.8, 2.85), (-1.55, 2.75),
     (-1.2, 2.3), (-0.8, 1.95), (-0.4, 1.65), (-0.15, 1.35), (0, 1.0)],
    [(-2.9, 0), (-2.5, 0.05), (-2.1, 0.3), (-1.8, 1.1), (-1.5, 2.1), (-1.25, 2.65), (-1.08, 2.75), (-0.9, 2.6),
     (-0.6, 2.1), (-0.35, 1.7), (-0.15, 1.35), (0, 1.0)],
    [(-2.0, 0), (-1.6, 0.1), (-1.2, 0.5), (-0.95, 1.3), (-0.75, 2.1), (-0.6, 2.55), (-0.5, 2.7), (-0.4, 2.6),
     (-0.25, 2.0), (-0.12, 1.5), (0, 1.0)],
    [(-1.1, 0), (-0.8, 0.15), (-0.6, 0.6), (-0.45, 1.3), (-0.32, 2.1), (-0.22, 2.65), (-0.18, 2.68), (-0.12, 2.3),
     (-0.05, 1.5), (0, 1.0)],
    [(-0.55, 0), (-0.4, 0.15), (-0.25, 0.8), (-0.15, 1.7), (-0.08, 2.2), (-0.04, 1.9), (0, 1.0)],
    [(-0.2, 0), (-0.12, 0.3), (-0.07, 1.2), (-0.04, 2.25), (-0.02, 1.8), (0, 1.0)],
]
EIB_MAX_DEC = [
    [(-6.5, 0), (-6.2, 0.05), (-6, 0.14), (-5.5, 0.5), (-5, 0.86), (-4.5, 1.32), (-4, 1.65), (-3.5, 1.78),
     (-3, 1.8), (-2.5, 1.79), (-2, 1.75), (-1.5, 1.65), (-1, 1.52), (-0.5, 1.35), (-0.2, 1.18), (0, 1.0)],
    [(-5.5, 0), (-5, 0.08), (-4.5, 0.35), (-4, 0.72), (-3.5, 1.12), (-3, 1.45), (-2.5, 1.65), (-2, 1.72),
     (-1.5, 1.7), (-1, 1.6), (-0.5, 1.4), (-0.2, 1.2), (0, 1.0)],
    [(-4.5, 0), (-4, 0.07), (-3.5, 0.3), (-3, 0.65), (-2.5, 1.05), (-2, 1.38), (-1.5, 1.58), (-1, 1.65),
     (-0.6, 1.58), (-0.3, 1.42), (-0.1, 1.2), (0, 1.0)],
    [(-3.5, 0), (-3, 0.07), (-2.5, 0.3), (-2, 0.65), (-1.5, 1.05), (-1, 1.4), (-0.6, 1.52), (-0.3, 1.45),
     (-0.1, 1.2), (0, 1.0)],
    [(-2.6, 0), (-2.2, 0.07), (-1.8, 0.3), (-1.4, 0.65), (-1, 1.0), (-0.6, 1.3), (-0.3, 1.38), (-0.12, 1.22), (0, 1.0)],
    [(-1.8, 0), (-1.4, 0.08), (-1.0, 0.35), (-0.7, 0.75), (-0.45, 1.1), (-0.25, 1.3), (-0.1, 1.2), (0, 1.0)],
    [(-1.0, 0), (-0.7, 0.12), (-0.45, 0.55), (-0.25, 1.0), (-0.1, 1.2), (0, 1.0)],
    [(-0.45, 0), (-0.3, 0.2), (-0.15, 0.75), (-0.05, 1.1), (0, 1.0)],
    [(-0.15, 0), (-0.08, 0.4), (-0.03, 0.95), (0, 1.0)],
]
EIB_MAX_DOT = [(-1.7, 0), (-1.4, 0.15), (-1, 0.86), (-0.7, 1.8), (-0.5, 2.9), (-0.35, 3.6), (-0.25, 3.9),
               (-0.15, 3.5), (-0.07, 2.3), (0, 1.0)]

# ---------------- Iso, MAX ----------------
ISO_MAX_ANN = [
    [(-6.8, 0), (-6.4, 0.04), (-6, 0.15), (-5.5, 0.42), (-5, 0.78), (-4.5, 1.15), (-4, 1.5), (-3.5, 1.72),
     (-3, 1.84), (-2.6, 1.87), (-2, 1.83), (-1.5, 1.74), (-1, 1.62), (-0.5, 1.42), (-0.2, 1.2), (0, 1.0)],
    [(-5.7, 0), (-5.3, 0.04), (-5, 0.12), (-4.5, 0.45), (-4, 0.8), (-3.5, 1.12), (-3, 1.42), (-2.5, 1.65),
     (-2, 1.78), (-1.6, 1.8), (-1, 1.72), (-0.5, 1.5), (-0.2, 1.25), (0, 1.0)],
    [(-4.7, 0), (-4.3, 0.05), (-4, 0.15), (-3.5, 0.45), (-3, 0.82), (-2.5, 1.18), (-2, 1.45), (-1.5, 1.62),
     (-1, 1.7), (-0.7, 1.68), (-0.4, 1.55), (-0.15, 1.3), (0, 1.0)],
    [(-3.7, 0), (-3.3, 0.05), (-3, 0.15), (-2.5, 0.48), (-2, 0.85), (-1.5, 1.2), (-1, 1.42), (-0.6, 1.49),
     (-0.35, 1.45), (-0.15, 1.3), (0, 1.0)],
    [(-2.7, 0), (-2.3, 0.05), (-2, 0.15), (-1.5, 0.5), (-1, 0.92), (-0.6, 1.2), (-0.35, 1.32), (-0.15, 1.25), (0, 1.0)],
    [(-1.9, 0), (-1.5, 0.08), (-1.2, 0.25), (-1, 0.43), (-0.7, 0.8), (-0.45, 1.1), (-0.25, 1.25), (-0.1, 1.18), (0, 1.0)],
    [(-1.0, 0), (-0.8, 0.05), (-0.6, 0.3), (-0.4, 0.75), (-0.25, 1.05), (-0.12, 1.15), (0, 1.0)],
    [(-0.45, 0), (-0.3, 0.15), (-0.18, 0.6), (-0.08, 1.05), (0, 1.0)],
    [(-0.15, 0), (-0.1, 0.25), (-0.05, 0.75), (-0.02, 1.0), (0, 1.0)],
]
ISO_MAX_DEC = [
    [(-6.5, 0), (-6, 0.08), (-5.5, 0.3), (-5, 0.65), (-4.5, 1.02), (-4, 1.38), (-3.5, 1.62), (-3, 1.76),
     (-2.5, 1.78), (-2, 1.76), (-1.5, 1.7), (-1, 1.6), (-0.5, 1.42), (-0.2, 1.2), (0, 1.0)],
    [(-5.5, 0), (-5, 0.06), (-4.5, 0.3), (-4, 0.62), (-3.5, 0.98), (-3, 1.3), (-2.5, 1.55), (-2, 1.7),
     (-1.5, 1.74), (-1, 1.7), (-0.5, 1.5), (-0.2, 1.25), (0, 1.0)],
    [(-4.5, 0), (-4, 0.07), (-3.5, 0.3), (-3, 0.65), (-2.5, 1.02), (-2, 1.35), (-1.5, 1.55), (-1, 1.65),
     (-0.6, 1.62), (-0.3, 1.48), (-0.1, 1.25), (0, 1.0)],
    [(-3.5, 0), (-3, 0.07), (-2.5, 0.3), (-2, 0.68), (-1.5, 1.05), (-1, 1.35), (-0.6, 1.46), (-0.35, 1.45),
     (-0.15, 1.3), (0, 1.0)],
    [(-2.5, 0), (-2, 0.07), (-1.5, 0.32), (-1, 0.75), (-0.6, 1.1), (-0.35, 1.28), (-0.15, 1.22), (0, 1.0)],
    [(-1.7, 0), (-1.4, 0.08), (-1, 0.35), (-0.7, 0.7), (-0.45, 1.0), (-0.25, 1.18), (-0.1, 1.15), (0, 1.0)],
    [(-0.9, 0), (-0.65, 0.12), (-0.45, 0.45), (-0.28, 0.85), (-0.12, 1.05), (0, 1.0)],
    [(-0.4, 0), (-0.25, 0.2), (-0.12, 0.7), (-0.04, 1.0), (0, 1.0)],
    [(-0.12, 0), (-0.07, 0.35), (-0.03, 0.85), (0, 1.0)],
]
ISO_MAX_DOT = [(-1.9, 0), (-1.5, 0.08), (-1.2, 0.25), (-1, 0.43), (-0.7, 0.82), (-0.45, 1.12), (-0.28, 1.25),
               (-0.1, 1.15), (0, 1.0)]

# ---------------- Bur, MAX ----------------
BUR_MAX_ANN = [
    [(-6.7, 0), (-6.3, 0.03), (-6, 0.09), (-5.5, 0.3), (-5, 0.55), (-4.5, 0.85), (-4, 1.15), (-3.5, 1.4),
     (-3, 1.58), (-2.5, 1.67), (-2, 1.7), (-1.5, 1.67), (-1, 1.6), (-0.5, 1.42), (-0.2, 1.2), (0, 1.0)],
    [(-5.7, 0), (-5.3, 0.03), (-5, 0.09), (-4.5, 0.3), (-4, 0.55), (-3.5, 0.85), (-3, 1.15), (-2.5, 1.38),
     (-2, 1.55), (-1.5, 1.63), (-1.2, 1.65), (-0.8, 1.6), (-0.4, 1.45), (-0.15, 1.25), (0, 1.0)],
    [(-4.7, 0), (-4.3, 0.03), (-4, 0.09), (-3.5, 0.3), (-3, 0.55), (-2.5, 0.85), (-2, 1.12), (-1.5, 1.35),
     (-1, 1.5), (-0.6, 1.55), (-0.35, 1.5), (-0.15, 1.3), (0, 1.0)],
    [(-3.7, 0), (-3.3, 0.03), (-3, 0.09), (-2.5, 0.3), (-2, 0.55), (-1.5, 0.85), (-1, 1.12), (-0.6, 1.32),
     (-0.35, 1.38), (-0.15, 1.28), (0, 1.0)],
    [(-2.7, 0), (-2.3, 0.03), (-2, 0.09), (-1.5, 0.3), (-1, 0.58), (-0.6, 0.9), (-0.35, 1.12), (-0.15, 1.2), (0, 1.0)],
    [(-1.8, 0), (-1.4, 0.05), (-1.1, 0.2), (-0.8, 0.45), (-0.5, 0.78), (-0.3, 1.02), (-0.12, 1.12), (0, 1.0)],
    [(-1.0, 0), (-0.8, 0.05), (-0.55, 0.25), (-0.35, 0.55), (-0.18, 0.88), (-0.06, 1.02), (0, 1.0)],
    [(-0.45, 0), (-0.3, 0.12), (-0.18, 0.45), (-0.08, 0.85), (0, 1.0)],
    [(-0.15, 0), (-0.1, 0.2), (-0.05, 0.6), (-0.02, 0.9), (0, 1.0)],
]
BUR_MAX_DEC = [
    [(-6.7, 0), (-6.3, 0.03), (-6, 0.09), (-5.5, 0.3), (-5, 0.6), (-4.5, 0.95), (-4, 1.28), (-3.5, 1.55),
     (-3, 1.72), (-2.5, 1.77), (-2, 1.75), (-1.5, 1.7), (-1, 1.6), (-0.5, 1.42), (-0.2, 1.2), (0, 1.0)],
    [(-5.7, 0), (-5.3, 0.03), (-5, 0.09), (-4.5, 0.3), (-4, 0.6), (-3.5, 0.95), (-3, 1.3), (-2.5, 1.52),
     (-2, 1.66), (-1.5, 1.72), (-1, 1.7), (-0.5, 1.5), (-0.2, 1.25), (0, 1.0)],
    [(-4.7, 0), (-4.3, 0.03), (-4, 0.09), (-3.5, 0.3), (-3, 0.6), (-2.5, 0.95), (-2, 1.28), (-1.5, 1.5),
     (-1, 1.62), (-0.6, 1.65), (-0.35, 1.55), (-0.15, 1.32), (0, 1.0)],
    [(-3.7, 0), (-3.3, 0.03), (-3, 0.09), (-2.5, 0.3), (-2, 0.6), (-1.5, 0.95), (-1, 1.25), (-0.6, 1.38),
     (-0.35, 1.4), (-0.15, 1.3), (0, 1.0)],
    [(-2.7, 0), (-2.3, 0.03), (-2, 0.09), (-1.5, 0.32), (-1, 0.65), (-0.6, 1.0), (-0.35, 1.2), (-0.15, 1.22), (0, 1.0)],
    [(-1.8, 0), (-1.4, 0.05), (-1.1, 0.2), (-0.8, 0.48), (-0.5, 0.85), (-0.3, 1.08), (-0.12, 1.15), (0, 1.0)],
    [(-1.0, 0), (-0.8, 0.05), (-0.55, 0.27), (-0.35, 0.6), (-0.18, 0.92), (-0.06, 1.05), (0, 1.0)],
    [(-0.45, 0), (-0.3, 0.13), (-0.18, 0.48), (-0.08, 0.88), (0, 1.0)],
    [(-0.15, 0), (-0.1, 0.22), (-0.05, 0.62), (-0.02, 0.92), (0, 1.0)],
]
BUR_MAX_DOT = [(-1.8, 0), (-1.4, 0.05), (-1.1, 0.2), (-0.8, 0.45), (-0.5, 0.72), (-0.3, 0.88), (-0.12, 0.97), (0, 1.0)]

# ---------------- Moo, MAX ----------------
MOO_MAX_ANN = [
    [(-6.8, 0), (-6.4, 0.04), (-6, 0.13), (-5.5, 0.55), (-5, 1.07), (-4.5, 1.6), (-4, 1.97), (-3.6, 2.1),
     (-3.3, 2.12), (-3, 2.1), (-2.5, 2.0), (-2, 1.88), (-1.5, 1.74), (-1, 1.59), (-0.5, 1.38), (-0.2, 1.18), (0, 1.0)],
    [(-5.7, 0), (-5.3, 0.05), (-5, 0.15), (-4.5, 0.62), (-4, 1.2), (-3.5, 1.7), (-3, 1.97), (-2.6, 2.06),
     (-2.2, 2.05), (-1.5, 1.95), (-1, 1.8), (-0.5, 1.52), (-0.2, 1.22), (0, 1.0)],
    [(-4.6, 0), (-4.2, 0.05), (-4, 0.15), (-3.5, 0.65), (-3, 1.28), (-2.5, 1.72), (-2, 1.92), (-1.6, 1.96),
     (-1.2, 1.93), (-0.8, 1.83), (-0.4, 1.62), (-0.15, 1.3), (0, 1.0)],
    [(-3.5, 0), (-3.2, 0.05), (-3, 0.15), (-2.5, 0.75), (-2, 1.4), (-1.5, 1.75), (-1.2, 1.82), (-0.9, 1.8),
     (-0.5, 1.62), (-0.2, 1.3), (0, 1.0)],
    [(-2.5, 0), (-2.2, 0.05), (-2, 0.15), (-1.5, 0.85), (-1.1, 1.5), (-0.8, 1.7), (-0.6, 1.72), (-0.35, 1.6),
     (-0.15, 1.3), (0, 1.0)],
    [(-1.7, 0), (-1.4, 0.1), (-1.1, 0.45), (-0.8, 1.0), (-0.55, 1.5), (-0.4, 1.68), (-0.3, 1.68), (-0.18, 1.45),
     (-0.07, 1.15), (0, 1.0)],
    [(-0.9, 0), (-0.7, 0.12), (-0.5, 0.55), (-0.3, 1.25), (-0.18, 1.62), (-0.13, 1.66), (-0.07, 1.4), (0, 1.0)],
    [(-0.45, 0), (-0.3, 0.2), (-0.18, 0.8), (-0.1, 1.35), (-0.05, 1.5), (0, 1.0)],
    [(-0.15, 0), (-0.1, 0.3), (-0.05, 0.9), (-0.02, 1.15), (0, 1.0)],
]
MOO_MAX_DEC = [
    [(-6.4, 0), (-6, 0.08), (-5.5, 0.3), (-5, 0.6), (-4.5, 0.98), (-4, 1.3), (-3.5, 1.58), (-3, 1.73),
     (-2.5, 1.79), (-2, 1.78), (-1.5, 1.7), (-1, 1.58), (-0.5, 1.38), (-0.2, 1.18), (0, 1.0)],
    [(-5.4, 0), (-5, 0.06), (-4.5, 0.28), (-4, 0.6), (-3.5, 1.0), (-3, 1.38), (-2.5, 1.62), (-2, 1.74),
     (-1.5, 1.75), (-1, 1.7), (-0.5, 1.5), (-0.2, 1.22), (0, 1.0)],
    [(-4.3, 0), (-4, 0.06), (-3.5, 0.28), (-3, 0.6), (-2.5, 0.98), (-2, 1.3), (-1.5, 1.52), (-1, 1.62),
     (-0.6, 1.6), (-0.3, 1.45), (-0.1, 1.2), (0, 1.0)],
    [(-3.3, 0), (-3, 0.06), (-2.5, 0.3), (-2, 0.7), (-1.5, 1.12), (-1, 1.42), (-0.6, 1.55), (-0.3, 1.48),
     (-0.1, 1.22), (0, 1.0)],
    [(-2.3, 0), (-2, 0.06), (-1.5, 0.42), (-1, 0.92), (-0.6, 1.3), (-0.35, 1.45), (-0.12, 1.3), (0, 1.0)],
    [(-1.6, 0), (-1.3, 0.08), (-1, 0.35), (-0.7, 0.72), (-0.45, 1.1), (-0.25, 1.3), (-0.1, 1.18), (0, 1.0)],
    [(-0.8, 0), (-0.6, 0.15), (-0.4, 0.5), (-0.22, 0.92), (-0.1, 1.12), (0, 1.0)],
    [(-0.4, 0), (-0.25, 0.2), (-0.12, 0.7), (-0.04, 1.05), (0, 1.0)],
    [(-0.12, 0), (-0.07, 0.35), (-0.03, 0.85), (0, 1.0)],
]
MOO_MAX_DOT = [(-1.7, 0), (-1.4, 0.12), (-1, 0.52), (-0.7, 1.0), (-0.5, 1.5), (-0.35, 2.1), (-0.25, 2.55),
               (-0.18, 2.7), (-0.1, 2.3), (-0.04, 1.5), (0, 1.0)]

PROFILES = ['NFW', 'Ein', 'EiB', 'Iso', 'Bur', 'Moo']
MED_SETS = {'NFW': (NFW_MED_ANN, NFW_MED_DEC, NFW_MED_DOT), 'Ein': (EIN_MED_ANN, EIN_MED_DEC, EIN_MED_DOT),
            'EiB': (EIB_MED_ANN, EIB_MED_DEC, EIB_MED_DOT), 'Iso': (ISO_MED_ANN, ISO_MED_DEC, ISO_MED_DOT),
            'Bur': (BUR_MED_ANN, BUR_MED_DEC, BUR_MED_DOT), 'Moo': (MOO_MED_ANN, MOO_MED_DEC, MOO_MED_DOT)}
MAX_SETS = {'NFW': (NFW_MAX_ANN, NFW_MAX_DEC, NFW_MAX_DOT), 'Ein': (EIN_MAX_ANN, EIN_MAX_DEC, EIN_MAX_DOT),
            'EiB': (EIB_MAX_ANN, EIB_MAX_DEC, EIB_MAX_DOT), 'Iso': (ISO_MAX_ANN, ISO_MAX_DEC, ISO_MAX_DOT),
            'Bur': (BUR_MAX_ANN, BUR_MAX_DEC, BUR_MAX_DOT), 'Moo': (MOO_MAX_ANN, MOO_MAX_DEC, MOO_MAX_DOT)}

LX_MIN, LX_MAX = -8.25, 0.2
DASHED = (0, (8, 4.5))
DOTTED = (0, (1.6, 1.6))


def draw_curve(ax, pts, color, ls, lw=0.9):
    lx = np.array([p[0] for p in pts], dtype=float)
    y = np.array([p[1] for p in pts], dtype=float)
    if y[0] == 0 and lx[0] > LX_MIN:
        lx = np.concatenate([[LX_MIN], lx])
        y = np.concatenate([[0.0], y])
    ax.plot(10 ** lx, y, color=color, lw=lw, ls=ls)


def style_axes(ax, ymax):
    ax.set_xscale('log')
    ax.set_xlim(10 ** LX_MIN, 10 ** LX_MAX)
    ax.set_ylim(0, ymax)
    ax.xaxis.set_major_locator(FixedLocator(10.0 ** np.arange(-8, 1)))
    ax.set_xticklabels(XTICK_LABELS)
    minor = [m * 10.0 ** e for e in range(-9, 1) for m in range(2, 10)]
    ax.xaxis.set_minor_locator(FixedLocator(minor))
    ax.xaxis.set_minor_formatter(NullFormatter())
    ax.yaxis.set_major_locator(MultipleLocator(0.5))
    ax.yaxis.set_minor_locator(MultipleLocator(0.1))
    ax.yaxis.set_major_formatter(FormatStrFormatter('%.1f'))
    ax.tick_params(which='both', direction='in', top=True, right=True, colors='#222222')
    ax.tick_params(axis='x', labelsize=13, pad=5)
    ax.tick_params(axis='y', labelsize=12.5, pad=2)
    ax.tick_params(which='major', length=4.5, width=0.6)
    ax.tick_params(which='minor', length=2.3, width=0.5)
    for s in ax.spines.values():
        s.set_linewidth(0.7)
        s.set_color('#444444')
    ax.set_xlabel(r'Electron energy fraction x=$E_e/E_s$', fontsize=11.5, labelpad=9)
    ax.set_ylabel(r'Halo function  $\tilde{I}(\mathrm{x},E_s,r_\odot)$', fontsize=11.5, labelpad=6)


def decorate(ax, label):
    tr = ax.transAxes
    ys = np.linspace(0.919, 0.583, 9)
    for c, yy in reversed(list(zip(COLORS, ys))):
        ax.scatter([0.142], [yy], s=135, color=c, transform=tr, zorder=5, clip_on=False, linewidths=0)
    ax.text(0.198, 0.905, '100 TeV', color='#1a1aff', fontsize=11.5, va='center', transform=tr)
    ax.text(0.198, 0.597, '1 MeV', color='#ff2020', fontsize=11.5, va='center', transform=tr)
    ax.plot([0.055, 0.143], [0.393, 0.393], color='#222222', lw=0.8, transform=tr)
    ax.plot([0.055, 0.143], [0.275, 0.275], color='#222222', lw=0.8, ls=(0, (6, 4)), transform=tr)
    ax.text(0.165, 0.393, 'Ann', fontsize=11.5, va='center', transform=tr)
    ax.text(0.165, 0.275, 'Decay', fontsize=11.5, va='center', transform=tr)
    ax.text(0.91, 0.91, label, fontsize=11.5, ha='right', va='center', transform=tr)


fig = plt.figure(figsize=(12.4, 16.98), dpi=100)
W, H = 1240.0, 1698.0
col_left = [63, 468, 874]
row_top = [9, 292, 575, 859, 1142, 1426]
ax_w, ax_h = 342, 211

for r, prof in enumerate(PROFILES):
    sets = [('MIN', MIN_ANN, MIN_DEC, MIN_DOT), ('MED',) + MED_SETS[prof], ('MAX',) + MAX_SETS[prof]]
    for c, (prop, ann, dec, dot) in enumerate(sets):
        ax = fig.add_axes([col_left[c] / W, 1 - (row_top[r] + ax_h) / H, ax_w / W, ax_h / H])
        ymax = 3.5 if (prof == 'EiB' and prop == 'MAX') else 2.5
        for k in range(9):
            draw_curve(ax, dec[k], COLORS[k], DASHED)
            draw_curve(ax, ann[k], COLORS[k], '-')
        draw_curve(ax, dot, 'black', DOTTED, lw=0.9)
        style_axes(ax, ymax)
        decorate(ax, f'{prof}, {prop}')

fig.savefig('out.png', dpi=100)
